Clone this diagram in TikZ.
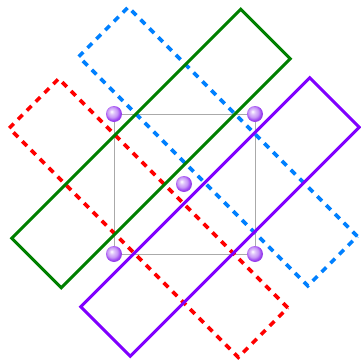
\documentclass[tikz,border=0pt]{standalone}
\usepackage{tikz}
\usetikzlibrary{positioning}
\definecolor{PlaneGreen}{HTML}{008000}
\definecolor{PlaneViolet}{HTML}{8000FF}
\definecolor{PlaneRed}{HTML}{FF0000}
\definecolor{PlaneBlue}{HTML}{0080FF}
\definecolor{CellGray}{HTML}{AAAAAA}
\definecolor{AtomViolet}{HTML}{9A40F0}
\pgfdeclareradialshading{atomshade}{\pgfqpoint{-8bp}{8bp}}{%
  color(0bp)=(white);
  color(7bp)=(AtomViolet!30!white);
  color(16bp)=(AtomViolet!55!white);
  color(24bp)=(AtomViolet);
  color(50bp)=(AtomViolet!70!black)}
\tikzset{
  planebox/.style={
    rectangle,
    minimum width=324pt,
    minimum height=70pt,
    inner sep=0pt,
    outer sep=0pt,
    line width=3pt
  },
  planesolid/.style={planebox,draw=#1},
  planedash/.style={planebox,draw=#1,line width=3.6pt,dash pattern=on 6.5pt off 6pt},
  cellline/.style={draw=CellGray,line width=0.8pt},
  atom/.style={
    circle,
    minimum size=16pt,
    inner sep=0pt,
    shading=atomshade
  }
}
\begin{document}
\begin{tikzpicture}[x=1pt,y=-1pt]
  \useasboundingbox (0,0) rectangle (360,362);
  % unit cell
  \coordinate (c1) at (114,114);
  \coordinate (c2) at (255,114);
  \coordinate (c3) at (255,254);
  \coordinate (c4) at (114,254);
  \draw[cellline] (c1) -- (c2) -- (c3) -- (c4) -- cycle;
  % dashed planes
  \node[planedash=PlaneRed,rotate=-45] (redplane) at (148.5,218) {};
  \node[planedash=PlaneBlue,rotate=-45] (blueplane) at (218,146.5) {};
  % solid planes
  \node[planesolid=PlaneGreen,rotate=45] (greenplane) at (151,148.5) {};
  \node[planesolid=PlaneViolet,rotate=45] (violetplane) at (220,217) {};
  % atoms
  \node[atom] (a1) at (c1) {};
  \node[atom] (a2) at (c2) {};
  \node[atom] (a3) at (c3) {};
  \node[atom] (a4) at (c4) {};
  \node[atom] (a5) at (184,184) {};
\end{tikzpicture}
\end{document}
